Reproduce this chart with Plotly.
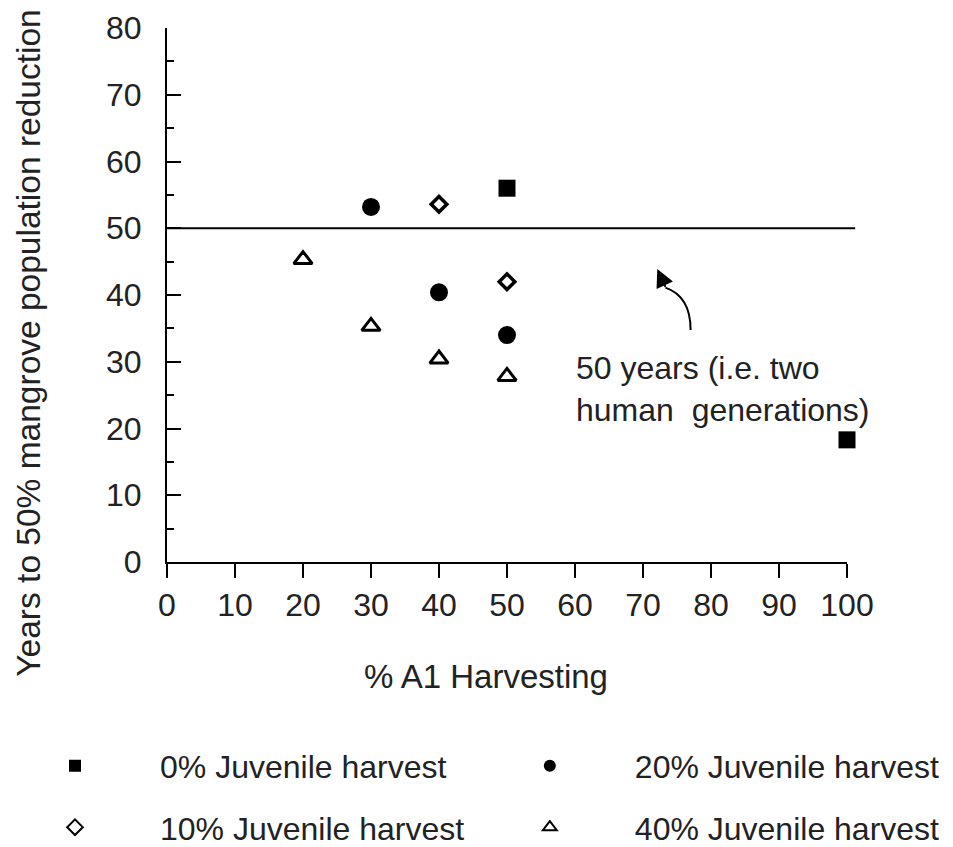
import plotly.graph_objects as go

# ---- data ----
x_tick_vals = [0, 10, 20, 30, 40, 50, 60, 70, 80, 90, 100]
y_tick_vals = [0, 10, 20, 30, 40, 50, 60, 70, 80]

juv0_x = [50, 100]
juv0_y = [56.0, 18.3]

juv20_x = [30, 40, 50]
juv20_y = [53.2, 40.4, 34.0]

juv10_x = [40, 50]
juv10_y = [53.6, 42.0]

juv40_x = [20, 30, 40, 50]
juv40_y = [45.3, 35.3, 30.4, 27.8]

threshold_years = 50

FONT = "Liberation Sans, Arial, sans-serif"
TXT = "#222"

fig = go.Figure()

fig.add_trace(go.Scatter(x=juv0_x, y=juv0_y, mode="markers", name="0% Juvenile harvest",
                         marker=dict(symbol="square", size=17, color="black"),
                         legend="legend", showlegend=True, cliponaxis=False))
fig.add_trace(go.Scatter(x=juv20_x, y=juv20_y, mode="markers", name="20% Juvenile harvest",
                         marker=dict(symbol="circle", size=18, color="black"),
                         legend="legend2", showlegend=True, cliponaxis=False))
fig.add_trace(go.Scatter(x=juv10_x, y=juv10_y, mode="markers", name="10% Juvenile harvest",
                         marker=dict(symbol="diamond-open", size=12, color="black",
                                     line=dict(width=3.5, color="black")),
                         legend="legend3", showlegend=True, cliponaxis=False))
fig.add_trace(go.Scatter(x=juv40_x, y=juv40_y, mode="markers", name="40% Juvenile harvest",
                         marker=dict(symbol="triangle-up-open", size=16, color="black",
                                     line=dict(width=3, color="black")),
                         legend="legend4", showlegend=True, cliponaxis=False))

# 50-year threshold line (extends slightly past the last tick)
fig.add_shape(type="line", xref="paper", yref="y", x0=0, x1=1.012,
              y0=threshold_years, y1=threshold_years,
              line=dict(color="black", width=2))

# curved arrow pointing to the line
fig.add_shape(type="path", xref="x", yref="y",
              path="M 77.0,34.75 Q 77.0,39.8 73.3,41.1",
              line=dict(color="black", width=2))
fig.add_annotation(x=72.1, y=43.9, ax=73.4, ay=41.0, xref="x", yref="y",
                   axref="x", ayref="y", text="", showarrow=True,
                   arrowhead=2, arrowsize=1.8, arrowwidth=2, arrowcolor="black")

fig.add_annotation(x=59.85, y=25.9, xref="x", yref="y", xanchor="left", yanchor="middle",
                   align="left", showarrow=False,
                   text="50 years (i.e. two<br>human  generations)",
                   font=dict(family=FONT, size=32, color=TXT))

# axis titles as annotations (positions as in original)
fig.add_annotation(x=-0.205, y=0.41, xref="paper", yref="paper", textangle=-90,
                   showarrow=False, xanchor="center", yanchor="middle",
                   text="Years to 50% mangrove population reduction",
                   font=dict(family=FONT, size=33.5, color=TXT))
fig.add_annotation(x=0.469, y=-0.215, xref="paper", yref="paper",
                   showarrow=False, xanchor="center", yanchor="middle",
                   text="% A1 Harvesting",
                   font=dict(family=FONT, size=33, color=TXT))

fig.update_xaxes(range=[0, 100], tickvals=x_tick_vals, ticks="outside", ticklen=14,
                 tickwidth=2, tickcolor="black", showline=True, linewidth=2,
                 linecolor="black", showgrid=False, zeroline=False,
                 tickfont=dict(family=FONT, size=32, color=TXT))
fig.update_yaxes(range=[0, 80], tickvals=y_tick_vals, ticks="inside", ticklen=14,
                 tickwidth=2, tickcolor="black", showline=True, linewidth=2,
                 linecolor="black", showgrid=False, zeroline=False,
                 ticklabelstandoff=17,
                 minor=dict(dtick=5, ticks="inside", ticklen=7, tickwidth=2,
                            tickcolor="black", showgrid=False),
                 tickfont=dict(family=FONT, size=32, color=TXT))

legend_common = dict(orientation="v", xanchor="left", yanchor="middle",
                     itemwidth=160, itemsizing="constant", bgcolor="rgba(0,0,0,0)",
                     visible=True, font=dict(family=FONT, size=32, color=TXT))

col1_x, col2_x = -0.2603, 0.438
row1_y, row2_y = -0.382, -0.497

fig.update_layout(
    width=953, height=847,
    showlegend=True,
    margin=dict(l=167, r=106, t=28, b=285, autoexpand=False),
    plot_bgcolor="white", paper_bgcolor="white",
    legend=dict(x=col1_x, y=row1_y, **legend_common),
    legend2=dict(x=col2_x, y=row1_y, **legend_common),
    legend3=dict(x=col1_x, y=row2_y, **legend_common),
    legend4=dict(x=col2_x, y=row2_y, **legend_common),
)

fig.write_html("out.html")
